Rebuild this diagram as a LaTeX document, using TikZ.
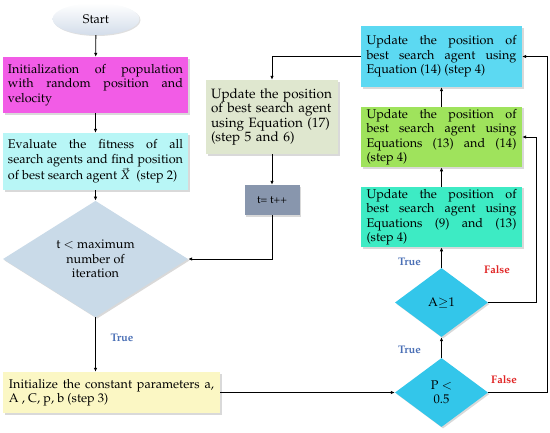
\documentclass[tikz,border=0pt]{standalone}
\usepackage[T1]{fontenc}
\usepackage{mathpazo}
\usetikzlibrary{shapes.geometric,shadows,arrows.meta}

\definecolor{startc}{HTML}{D3DDEA}
\definecolor{initc}{HTML}{F25CE6}
\definecolor{evalc}{HTML}{B8F6F6}
\definecolor{condc}{HTML}{C9DAE8}
\definecolor{paramc}{HTML}{FBF7C4}
\definecolor{eqsevc}{HTML}{DFE7CF}
\definecolor{tincc}{HTML}{8896AD}
\definecolor{eqfourc}{HTML}{5CD9F2}
\definecolor{eqthrc}{HTML}{9FE35C}
\definecolor{eqninc}{HTML}{3DEBC4}
\definecolor{decc}{HTML}{33C6EA}
\definecolor{truec}{HTML}{4A6FB5}
\definecolor{falsec}{HTML}{E02424}

\begin{document}
\begin{tikzpicture}[x=1pt,y=-1pt]
    \tikzstyle{every node}=[font=\fontsize{12.6}{14.5}\selectfont]
    \tikzstyle{box}=[rectangle, inner xsep=5pt, inner ysep=2pt, align=justify, drop shadow={shadow xshift=1.5pt, shadow yshift=-1.5pt, opacity=0.3}]
    \tikzstyle{decision}=[diamond, inner sep=0pt, align=center, drop shadow={shadow xshift=1.5pt, shadow yshift=-1.5pt, opacity=0.3}]
    \tikzstyle{line}=[draw, line width=0.8pt, -{Latex[length=4pt,width=3.5pt]}]
    \tikzstyle{yes}=[text=truec, font=\bfseries\fontsize{11}{13}\selectfont]
    \tikzstyle{no}=[text=falsec, font=\bfseries\fontsize{11}{13}\selectfont]

    \useasboundingbox (0,0) rectangle (550,432);

    % left column
    \node[ellipse, top color=white, bottom color=startc, minimum width=87pt, minimum height=32pt, drop shadow={shadow xshift=1pt, shadow yshift=-1pt, opacity=0.25}] (start) at (96,19) {Start};
    \node[box, fill=initc, text width=175pt, minimum height=56pt] (init) at (95.5,85) {Initialization of population\linebreak with random position and\linebreak velocity};
    \node[box, fill=evalc, text width=175pt, minimum height=57pt] (eval) at (95.5,161.5) {Evaluate the fitness of all\linebreak search agents and find position\linebreak of best search agent $\vec{X}$~~(step 2)};
    \node[decision, fill=condc, minimum width=185pt, minimum height=98pt] (cond) at (95.5,259) {t $<$ maximum\\number of\\iteration};
    \node[box, fill=paramc, inner xsep=6pt, text width=205pt, minimum height=41pt] (param) at (111.5,392.5) {Initialize the constant parameters a,\linebreak A , C, p, b (step 3)};

    % middle column
    \node[box, fill=eqsevc, inner xsep=5pt, text width=122pt, minimum height=74pt, align=left, font=\fontsize{13.5}{14.5}\selectfont] (eqsev) at (272,117) {Update the position\\of best search agent\\using Equation (17)\\(step 5 and 6)};
    \node[box, fill=tincc, inner xsep=2pt, minimum width=55pt, minimum height=30pt, align=center, font=\fontsize{11}{13}\selectfont] (tinc) at (272,200) {t= t++};

    % right column
    \node[box, fill=eqfourc, inner xsep=5.5pt, text width=150pt, minimum height=61pt] (eqfour) at (441.5,56.5) {Update the position of\linebreak best search agent using\linebreak Equation (14) (step 4)};
    \node[box, fill=eqthrc, inner xsep=5.5pt, text width=150pt, minimum height=60pt] (eqthr) at (441.5,137) {Update the position of\linebreak best search agent using\linebreak Equations (13) and (14)\linebreak (step 4)};
    \node[box, fill=eqninc, inner xsep=5.5pt, text width=150pt, minimum height=60pt] (eqnin) at (441.5,217) {Update the position of\linebreak best search agent using\linebreak Equations (9) and (13)\linebreak (step 4)};
    \node[decision, fill=decc, minimum width=93pt, minimum height=69pt] (dA) at (441.5,302.5) {A$\geq$1};
    \node[decision, fill=decc, minimum width=93pt, minimum height=69pt] (dP) at (441.5,392.5) {P $<$\\0.5};

    % labels
    \node[yes] (t1) at (122,338) {True};
    \node[yes] (t2) at (409.5,262) {True};
    \node[yes] (t3) at (409.5,350) {True};
    \node[no] (f1) at (497,270) {False};
    \node[no] (f2) at (504,380) {False};

    % connectors
    \path[line] (start) -- (init);
    \path[line] (init) -- (eval);
    \path[line] (eval) -- (cond);
    \path[line] (cond.south) -- (cond.south |- param.north);
    \path[line] (param) -- (dP);
    \path[line] (dP) -- (dA);
    \path[line] (dA) -- (eqnin);
    \path[line] (eqnin) -- (eqthr);
    \path[line] (eqthr) -- (eqfour);
    \path[line] (dA.east) -- ++(48,0) |- (eqthr.east);
    \path[line] (dP.east) -- ++(59,0) |- (eqfour.east);
    \path[line] (eqfour.west) -| (eqsev.north);
    \path[line] (eqsev) -- (tinc);
    \path[line] (tinc.south) |- (cond.east);
\end{tikzpicture}
\end{document}
